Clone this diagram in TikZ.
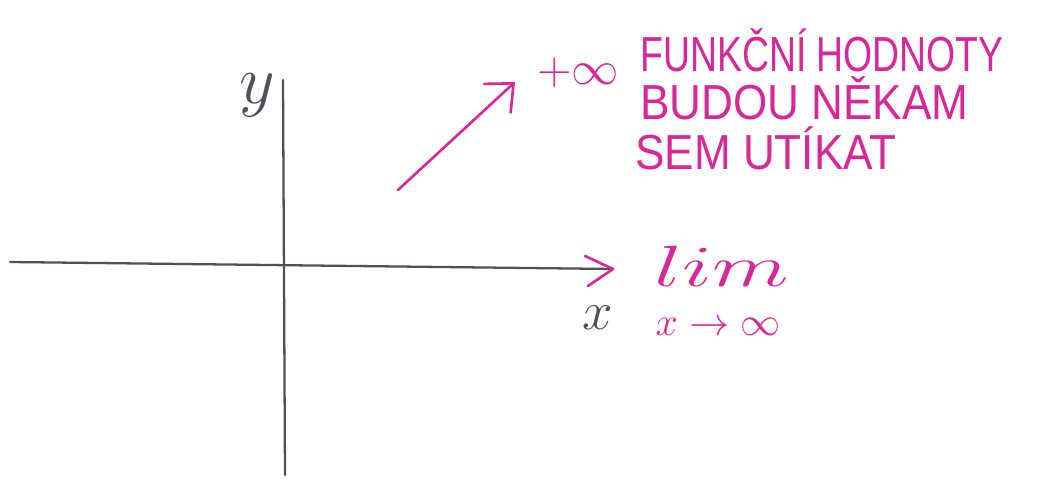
\documentclass[tikz,border=0pt]{standalone}
\usepackage{fontspec}
\setmainfont{Liberation Sans}
\usetikzlibrary{arrows.meta}
\definecolor{pen}{RGB}{214,40,150}
\definecolor{pencil}{RGB}{80,80,92}
\begin{document}
\begin{tikzpicture}[x=0.02cm,y=-0.02cm,
  axis/.style={draw=pencil,line width=1.3pt,line cap=round},
  penline/.style={draw=pen,line width=1.5pt,line cap=round,line join=round},
  hand/.style={text=pen,font=\fontsize{28}{30}\selectfont,inner sep=0pt,anchor=base west,xscale=0.8},
  mathlab/.style={inner sep=0pt,font=\fontsize{20}{24}\selectfont},
]
\useasboundingbox (0,0) rectangle (1045,479);
\fill[white] (0,0) rectangle (1045,479);
% axes
\coordinate (xl) at (10,262);
\coordinate (xr) at (613,269);
\coordinate (yt) at (283,80);
\coordinate (yb) at (285,475);
\draw[axis] (xl) -- (xr);
\draw[axis] (yt) -- (yb);
% magenta chevron at end of x axis
\coordinate (xa1) at (585,256);
\coordinate (xa2) at (588,286);
\draw[penline] (xa1) -- (xr) -- (xa2);
% axis labels
\node[mathlab,text=pencil,scale=1.9] (ylab) at (257,95) {$y$};
\node[mathlab,text=pencil,scale=1.5] (xlab) at (598,318) {$x$};
% diagonal arrow
\coordinate (a1) at (398,190);
\coordinate (a2) at (515,82);
\draw[penline,-{Straight Barb[length=0.45cm,width=0.8cm]}] (a1) -- (a2);
\node[mathlab,text=pen,scale=1.3] (pinf) at (578,73) {$+\infty$};
% text block
\node[hand,xscale=0.95] (t1) at (640,72) {FUNKČNÍ HODNOTY};
\node[hand,xscale=1.12] (t2) at (640,120) {BUDOU NĚKAM};
\node[hand,xscale=1.12] (t3) at (635,170) {SEM UTÍKAT};
% limit
\node[mathlab,text=pen,xscale=2.45,yscale=1.6] (lim) at (722,266) {$lim$};
\node[mathlab,text=pen,scale=1.1] (xinf) at (718,327) {$x\to\infty$};
\end{tikzpicture}
\end{document}
